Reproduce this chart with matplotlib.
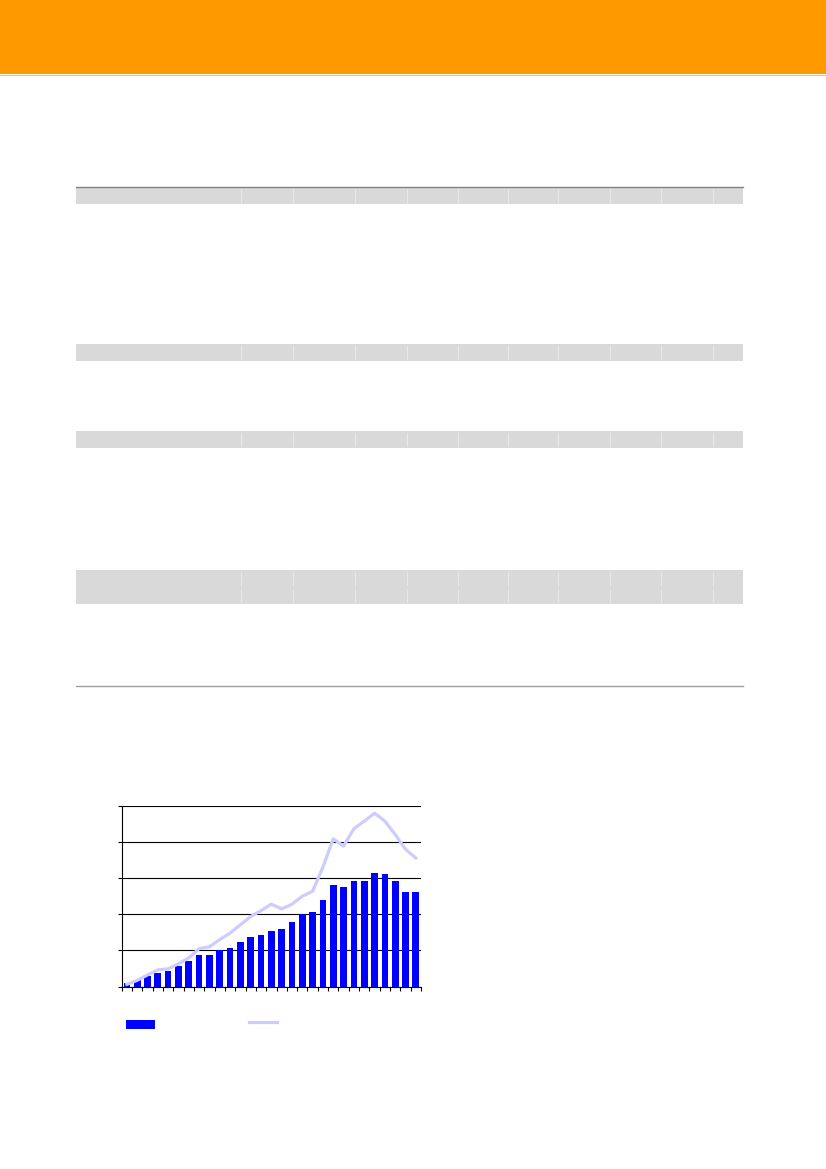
import numpy as np
import matplotlib
matplotlib.use("Agg")
import matplotlib.pyplot as plt
from matplotlib.patches import Rectangle
from matplotlib.lines import Line2D

W, H = 826, 1169

# chart data (units = grid steps)
bars = [0.11, 0.17, 0.30, 0.37, 0.44, 0.56, 0.71, 0.86, 0.86, 1.01,
        1.06, 1.23, 1.36, 1.44, 1.55, 1.58, 1.79, 2.02, 2.07, 2.40,
        2.80, 2.77, 2.92, 2.92, 3.15, 3.11, 2.92, 2.62, 2.62]
line = [0.06, 0.17, 0.32, 0.46, 0.49, 0.63, 0.79, 1.05, 1.10, 1.30,
        1.48, 1.71, 1.94, 2.10, 2.28, 2.15, 2.28, 2.50, 2.64, 3.31,
        4.09, 3.89, 4.37, 4.58, 4.80, 4.58, 4.21, 3.80, 3.56]
yticks = [0, 1, 2, 3, 4, 5]

# table bands (top, bottom) in page pixels
bands = [(187, 204.5), (344, 361), (431, 448), (570, 587), (587, 604)]
col_x = [241, 293, 355, 407, 458, 508, 558, 610, 661, 713]

fig = plt.figure(figsize=(W / 100, H / 100), dpi=100)
fig.patch.set_facecolor("white")


def fx(px):
    return px / W


def fy(py):
    return 1 - py / H


# orange header
fig.add_artist(Rectangle((0, fy(73.5)), 1, 73.5 / H, transform=fig.transFigure,
                         facecolor="#ff9900", edgecolor="none"))
fig.add_artist(Line2D([0, 1], [fy(74.5), fy(74.5)], transform=fig.transFigure,
                      color="#ffc266", lw=0.8))

# grey table bands
for top, bot in bands:
    fig.add_artist(Rectangle((fx(76), fy(bot)), fx(743) - fx(76), (bot - top) / H,
                             transform=fig.transFigure, facecolor="#d9d9d9", edgecolor="none"))
    for cx in col_x:
        fig.add_artist(Line2D([fx(cx), fx(cx)], [fy(bot - 2), fy(top + 2)],
                              transform=fig.transFigure, color="#e8e8e8", lw=0.8))
fig.add_artist(Line2D([fx(76), fx(743)], [fy(187), fy(187)], transform=fig.transFigure,
                      color="#808080", lw=1.0))
fig.add_artist(Line2D([fx(76), fx(743)], [fy(686), fy(686)], transform=fig.transFigure,
                      color="#a0a0a0", lw=1.0))

# chart
ax = fig.add_axes([fx(121.7), fy(986.5), fx(421) - fx(121.7), (986.5 - 806) / H])
x = np.arange(len(bars))
ax.bar(x, bars, width=0.65, color="#0000ff", zorder=2)
ax.plot(x, line, color="#ccccff", lw=2.3, zorder=3)
ax.set_xlim(-0.5, len(bars) - 0.5)
ax.set_ylim(0, 5)
ax.set_yticks(yticks)
ax.set_xticks(np.arange(len(bars) + 1) - 0.5)
ax.set_xticklabels([])
ax.set_yticklabels([])
ax.tick_params(axis="both", direction="out", length=3, width=0.8, color="black")
ax.yaxis.grid(True, color="black", lw=0.8, zorder=1)
ax.set_axisbelow(True)
for s in ["top", "right"]:
    ax.spines[s].set_visible(False)
for s in ["left", "bottom"]:
    ax.spines[s].set_linewidth(0.8)
ax.patch.set_alpha(0)

# legend keys
fig.add_artist(Rectangle((fx(126), fy(1028.5)), fx(155) - fx(126), 8.5 / H,
                         transform=fig.transFigure, facecolor="#0000ff", edgecolor="none"))
fig.add_artist(Line2D([fx(249), fx(277)], [fy(1022), fy(1022)], transform=fig.transFigure,
                      color="#ccccff", lw=2.3))

fig.savefig("out.png", dpi=100)
